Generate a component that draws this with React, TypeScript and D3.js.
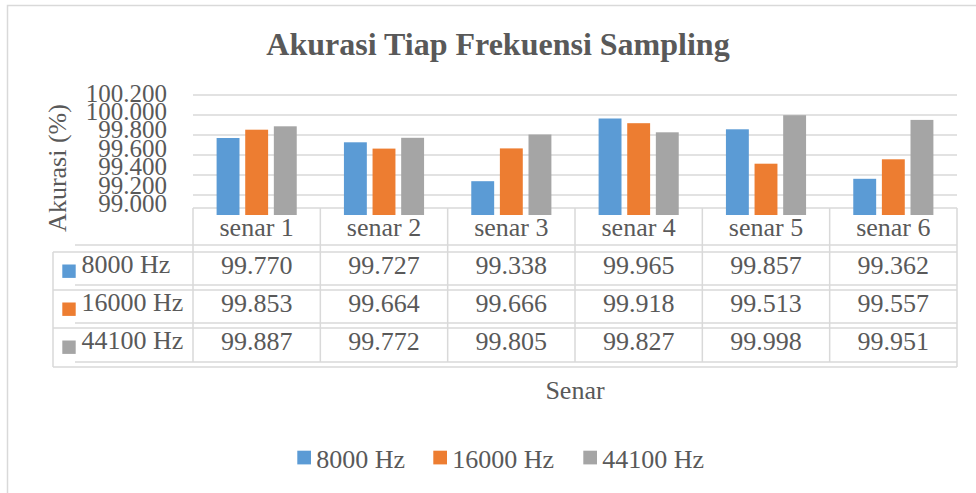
import * as d3 from "d3"
import { useEffect, useRef } from "react"

// chart data
const categories = ["senar 1", "senar 2", "senar 3", "senar 4", "senar 5", "senar 6"]
const seriesNames = ["8000 Hz", "16000 Hz", "44100 Hz"]
const values8000 = [99.77, 99.727, 99.338, 99.965, 99.857, 99.362]
const values16000 = [99.853, 99.664, 99.666, 99.918, 99.513, 99.557]
const values44100 = [99.887, 99.772, 99.805, 99.827, 99.998, 99.951]
const yTicks = [99.0, 99.2, 99.4, 99.6, 99.8, 100.0, 100.2]
const colors = ["#5B9BD5", "#ED7D31", "#A5A5A5"]

const seriesValues = [values8000, values16000, values44100]

const App = () => {
  const svgRef = useRef<SVGSVGElement | null>(null)

  useEffect(() => {
    if (!svgRef.current) return
    const svg = d3.select(svgRef.current)
    svg.selectAll("*").remove()

    const W = 976
    const H = 493
    const textColor = "#595959"
    const lineColor = "#D9D9D9"
    const font = "'Liberation Serif', 'Times New Roman', serif"

    svg.attr("width", W).attr("height", H).style("font-family", font)

    svg.append("rect").attr("width", W).attr("height", H).attr("fill", "#fff")

    // outer frame
    svg
      .append("rect")
      .attr("x", 7.5)
      .attr("y", 5.5)
      .attr("width", 1100)
      .attr("height", 700)
      .attr("fill", "none")
      .attr("stroke", lineColor)
      .attr("stroke-width", 1.5)

    // title
    svg
      .append("text")
      .attr("x", 498)
      .attr("y", 55)
      .attr("text-anchor", "middle")
      .attr("font-size", 32)
      .attr("font-weight", "bold")
      .attr("fill", textColor)
      .text("Akurasi Tiap Frekuensi Sampling")

    const plotLeft = 193
    const plotRight = 957

    const x0 = d3.scaleBand().domain(categories).range([plotLeft, plotRight]).padding(0)
    const x1 = d3
      .scaleBand()
      .domain(seriesNames)
      .range([23.6, x0.bandwidth() - 23.6])
      .paddingInner(0.2)
    const y = d3.scaleLinear().domain([99.0, 100.2]).range([215, 95])
    // excel squeezes the tick labels slightly
    const yLabel = d3.scaleLinear().domain([99.0, 100.2]).range([212, 101.7])

    // gridlines
    svg
      .append("g")
      .selectAll("line")
      .data(yTicks.slice(1))
      .enter()
      .append("line")
      .attr("x1", plotLeft)
      .attr("x2", plotRight)
      .attr("y1", (d) => y(d))
      .attr("y2", (d) => y(d))
      .attr("stroke", lineColor)
      .attr("stroke-width", 1.5)

    // y tick labels
    svg
      .append("g")
      .selectAll("text")
      .data(yTicks)
      .enter()
      .append("text")
      .attr("x", 167)
      .attr("y", (d) => yLabel(d))
      .attr("text-anchor", "end")
      .attr("font-size", 25)
      .attr("fill", textColor)
      .text((d) => d3.format(".3f")(d))

    // y axis title
    svg
      .append("text")
      .attr("transform", "translate(66,168) rotate(-90)")
      .attr("text-anchor", "middle")
      .attr("font-size", 26)
      .attr("fill", textColor)
      .text("Akurasi (%)")

    // data table
    const tableTop = 208
    const catBottom = 245
    const rowTops = [252, 290, 328]
    const rowBottoms = [285, 323, 362]
    const tableBottom = 367
    const tableLeft = 53
    const innerLeft = 75

    const table = svg.append("g").attr("stroke", lineColor).attr("stroke-width", 1.5)
    table
      .append("line")
      .attr("x1", plotLeft)
      .attr("x2", plotRight)
      .attr("y1", tableTop)
      .attr("y2", tableTop)
    ;[catBottom, ...rowBottoms].forEach((yy) => {
      table.append("line").attr("x1", innerLeft).attr("x2", plotRight).attr("y1", yy).attr("y2", yy)
    })
    ;[...rowTops, tableBottom].forEach((yy) => {
      table.append("line").attr("x1", tableLeft).attr("x2", plotRight).attr("y1", yy).attr("y2", yy)
    })
    table
      .append("line")
      .attr("x1", tableLeft)
      .attr("x2", tableLeft)
      .attr("y1", rowTops[0])
      .attr("y2", tableBottom)
    categories.forEach((c) => {
      table
        .append("line")
        .attr("x1", x0(c)!)
        .attr("x2", x0(c)!)
        .attr("y1", tableTop)
        .attr("y2", rowBottoms[2])
    })
    table
      .append("line")
      .attr("x1", plotRight)
      .attr("x2", plotRight)
      .attr("y1", tableTop)
      .attr("y2", tableBottom)

    // category labels
    svg
      .append("g")
      .selectAll("text")
      .data(categories)
      .enter()
      .append("text")
      .attr("x", (d) => x0(d)! + x0.bandwidth() / 2)
      .attr("y", 236)
      .attr("text-anchor", "middle")
      .attr("font-size", 26)
      .attr("fill", textColor)
      .text((d) => d)

    // table rows
    seriesNames.forEach((name, si) => {
      const top = rowTops[si]
      svg
        .append("rect")
        .attr("x", 62.3)
        .attr("y", top + 12.5)
        .attr("width", 13.4)
        .attr("height", 13.4)
        .attr("fill", colors[si])
      svg
        .append("text")
        .attr("x", 81.5)
        .attr("y", top + 21)
        .attr("font-size", 26)
        .attr("fill", textColor)
        .text(name)
      svg
        .append("g")
        .selectAll("text")
        .data(seriesValues[si])
        .enter()
        .append("text")
        .attr("x", (d, i) => x0(categories[i])! + x0.bandwidth() / 2)
        .attr("y", top + 21.5)
        .attr("text-anchor", "middle")
        .attr("font-size", 26)
        .attr("fill", textColor)
        .text((d) => d3.format(".3f")(d))
    })

    // bars
    const groups = svg
      .append("g")
      .selectAll("g")
      .data(categories)
      .enter()
      .append("g")
      .attr("transform", (d) => `translate(${x0(d)},0)`)

    groups
      .selectAll("rect")
      .data((d, i) => seriesNames.map((s, si) => ({ s, si, v: seriesValues[si][i] })))
      .enter()
      .append("rect")
      .attr("x", (d) => x1(d.s)!)
      .attr("y", (d) => y(d.v))
      .attr("width", x1.bandwidth())
      .attr("height", (d) => y(99.0) - y(d.v))
      .attr("fill", (d) => colors[d.si])

    // x axis title
    svg
      .append("text")
      .attr("x", (plotLeft + plotRight) / 2)
      .attr("y", 399)
      .attr("text-anchor", "middle")
      .attr("font-size", 26)
      .attr("fill", textColor)
      .text("Senar")

    // legend
    const legendX = [297.3, 433.3, 583.3]
    seriesNames.forEach((name, si) => {
      svg
        .append("rect")
        .attr("x", legendX[si])
        .attr("y", 450.7)
        .attr("width", 13.7)
        .attr("height", 13.7)
        .attr("fill", colors[si])
      svg
        .append("text")
        .attr("x", legendX[si] + 19)
        .attr("y", 468)
        .attr("font-size", 26)
        .attr("fill", textColor)
        .text(name)
    })
  }, [])

  return (
    <svg
      ref={svgRef}
      style={{ position: "absolute", left: 0, top: 0, display: "block" }}
    />
  )
}

export default App
